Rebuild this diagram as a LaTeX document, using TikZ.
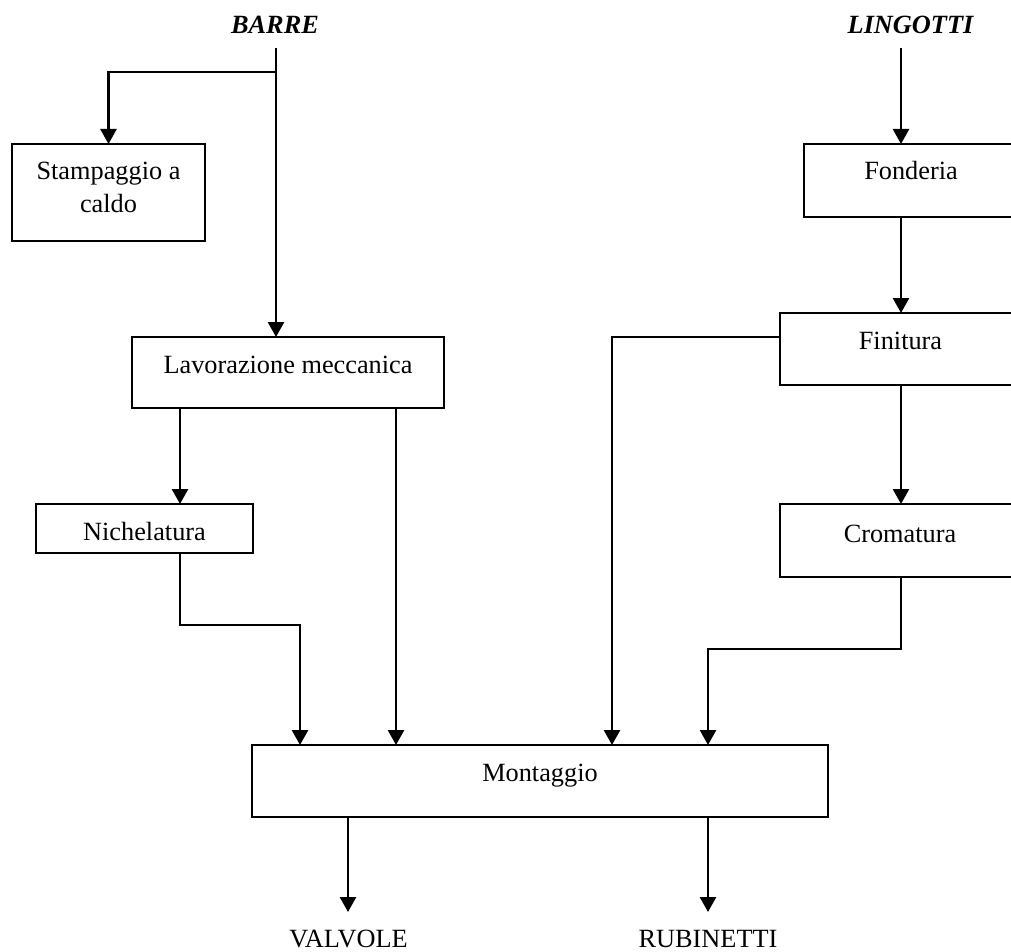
\documentclass[tikz,border=0pt]{standalone}
\usepackage{fontspec}
\setmainfont{Liberation Serif}
\usetikzlibrary{arrows.meta}
\begin{document}
\begin{tikzpicture}[x=1pt,y=-1pt,
  every node/.style={inner sep=0pt, outer sep=0pt},
  procbox/.style={draw, line width=2.5pt, rectangle},
  lbl/.style={anchor=base, font=\fontsize{26.3}{31}\selectfont},
  head/.style={anchor=base, font=\fontsize{26.3}{31}\selectfont\bfseries\itshape},
  flow/.style={line width=2.5pt, -{Triangle[width=16pt,length=15pt]}},
  link/.style={line width=2.5pt}]
\useasboundingbox (0,0) rectangle (1011,952);
\clip (0,0) rectangle (1011,952);

% process boxes
\node[procbox, minimum width=193pt, minimum height=97pt] (stamp) at (108.5,192.5) {};
\node[procbox, minimum width=312pt, minimum height=71pt] (lav) at (288,372.5) {};
\node[procbox, minimum width=217pt, minimum height=49pt] (nich) at (144.5,528.5) {};
\node[procbox, minimum width=214pt, minimum height=73pt] (fond) at (911,180.5) {};
\node[procbox, minimum width=241pt, minimum height=72pt] (fin) at (900.5,349) {};
\node[procbox, minimum width=240pt, minimum height=73pt] (crom) at (900,540.5) {};
\node[procbox, minimum width=576pt, minimum height=72pt] (mont) at (540,781) {};

% box captions, set near the top of each box
\node[lbl] (stampA) at ([yshift=-36pt]stamp.north) {Stampaggio a};
\node[lbl] (stampB) at ([yshift=-68pt]stamp.north) {caldo};
\node[lbl] (lavT) at ([yshift=-36pt]lav.north) {Lavorazione meccanica};
\node[lbl] (nichT) at ([yshift=-36pt]nich.north) {Nichelatura};
\node[lbl] (fondT) at ([yshift=-36pt]fond.north) {Fonderia};
\node[lbl] (finT) at ([yshift=-36pt]fin.north) {Finitura};
\node[lbl] (cromT) at ([yshift=-38pt]crom.north) {Cromatura};
\node[lbl] (montT) at ([yshift=-36pt]mont.north) {Montaggio};

% inputs and outputs
\node[head] (barre) at (275,34) {BARRE};
\node[head] (lingotti) at (910.5,34) {LINGOTTI};
\node[lbl] (valvole) at (348.5,947) {VALVOLE};
\node[lbl] (rubinetti) at (708,947) {RUBINETTI};

% connector points
\coordinate (bstart) at (276,48);
\coordinate (bsplit) at (276,72);
\coordinate (lstart) at (901,48);
\coordinate (xn) at (180,0);
\coordinate (xl) at (396,0);
\coordinate (xfin) at (612,0);
\coordinate (yfin) at (0,337);
\coordinate (nbend) at (300,625);
\coordinate (cbend) at (708,649);
\coordinate (vout) at (348,912);
\coordinate (rout) at (708,912);

% bars line
\draw[flow] (bstart) -- (lav.north -| bstart);
\draw[flow] (bsplit) -| (stamp.north);
\draw[flow] (lav.south -| xn) -- (nich.north -| xn);
\draw[flow] (lav.south -| xl) -- (mont.north -| xl);
\draw[flow] (nich.south -| xn) |- (nbend) -- (mont.north -| nbend);

% ingots line
\draw[flow] (lstart) -- (fond.north -| lstart);
\draw[flow] (fond.south -| lstart) -- (fin.north -| lstart);
\draw[flow] (fin.south -| lstart) -- (crom.north -| lstart);
\draw[flow] (fin.west |- yfin) -| (mont.north -| xfin);
\draw[flow] (crom.south -| lstart) |- (cbend) -- (mont.north -| cbend);

% products
\draw[flow] (mont.south -| vout) -- (vout);
\draw[flow] (mont.south -| rout) -- (rout);
\end{tikzpicture}
\end{document}
